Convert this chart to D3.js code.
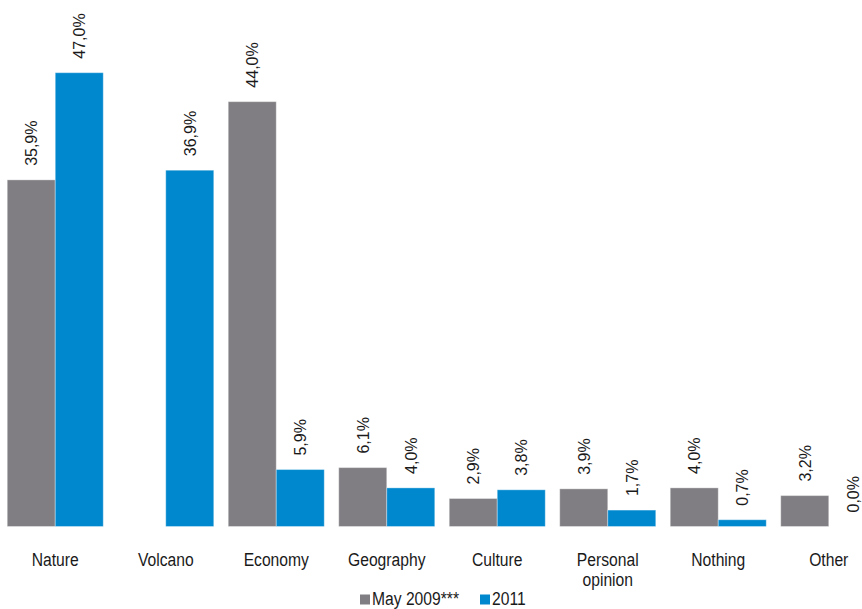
<!DOCTYPE html>
<html>
<head>
<meta charset="utf-8">
<script src="https://cdn.jsdelivr.net/npm/d3@7"></script>
<style>
  html, body { margin: 0; padding: 0; background: #fff; }
  svg { display: block; }
  text { font-family: "Liberation Sans", Arial, sans-serif; fill: #1a1a1a; }
</style>
</head>
<body>
<svg id="chart" width="862" height="609"></svg>
<script>
// Categories and series (values in percent; null = not asked that year)
const categories = ["Nature", "Volcano", "Economy", "Geography", "Culture", "Personal opinion", "Nothing", "Other"];
const categoryLines = [["Nature"], ["Volcano"], ["Economy"], ["Geography"], ["Culture"], ["Personal", "opinion"], ["Nothing"], ["Other"]];
const seriesNames = ["May 2009***", "2011"];
const may2009 = [35.9, null, 44.0, 6.1, 2.9, 3.9, 4.0, 3.2];
const y2011 = [47.0, 36.9, 5.9, 4.0, 3.8, 1.7, 0.7, 0.0];
const seriesColors = ["#807e82", "#0088ce"];

const svg = d3.select("#chart");
const baseY = 526.5;

const x0 = d3.scaleBand()
  .domain(categories)
  .range([0, 884])
  .paddingInner(0.131)
  .paddingOuter(0.0655);

const x1 = d3.scaleBand()
  .domain(seriesNames)
  .range([0, x0.bandwidth()]);

const y = d3.scaleLinear()
  .domain([0, 47])
  .range([baseY, 72.7]);

const fmt = v => v.toFixed(1).replace(".", ",") + "%";

const series = [may2009, y2011];
const rows = [];
series.forEach((vals, si) => {
  vals.forEach((v, ci) => {
    if (v !== null) rows.push({ cat: categories[ci], s: seriesNames[si], si, v });
  });
});

// Bars
svg.append("g").selectAll("rect")
  .data(rows.filter(d => d.v > 0))
  .join("rect")
  .attr("x", d => x0(d.cat) + x1(d.s))
  .attr("y", d => y(d.v))
  .attr("width", x1.bandwidth())
  .attr("height", d => baseY - y(d.v))
  .attr("fill", d => seriesColors[d.si])
  .attr("stroke", "rgba(255,255,255,0.35)")
  .attr("stroke-width", 1);

// Rotated value labels above each bar
svg.append("g").selectAll("text")
  .data(rows)
  .join("text")
  .attr("transform", d => {
    const cx = x0(d.cat) + x1(d.s) + x1.bandwidth() / 2;
    return `translate(${cx},${y(d.v) - 14}) rotate(-90)`;
  })
  .attr("dy", "0.36em")
  .attr("text-anchor", "start")
  .style("font-size", "16px")
  .text(d => fmt(d.v));

// Category labels (condensed)
const catG = svg.append("g").selectAll("g")
  .data(categories)
  .join("g")
  .attr("transform", (c) => `translate(${x0(c) + x0.bandwidth() / 2},565.5) scale(0.87,1)`);

catG.each(function (c, i) {
  const t = d3.select(this).append("text")
    .attr("text-anchor", "middle")
    .style("font-size", "18px");
  categoryLines[i].forEach((line, li) => {
    t.append("tspan").attr("x", 0).attr("y", li * 21).text(line);
  });
});

// Legend
const legendItems = [
  { name: seriesNames[0], color: seriesColors[0], x: 360 },
  { name: seriesNames[1], color: seriesColors[1], x: 480 }
];
const lg = svg.append("g").selectAll("g")
  .data(legendItems)
  .join("g");
lg.append("rect")
  .attr("x", d => d.x)
  .attr("y", 594.5)
  .attr("width", 10)
  .attr("height", 10)
  .attr("fill", d => d.color);
lg.append("text")
  .attr("transform", d => `translate(${d.x + 12},604.5) scale(0.87,1)`)
  .style("font-size", "18px")
  .text(d => d.name);
</script>
</body>
</html>
